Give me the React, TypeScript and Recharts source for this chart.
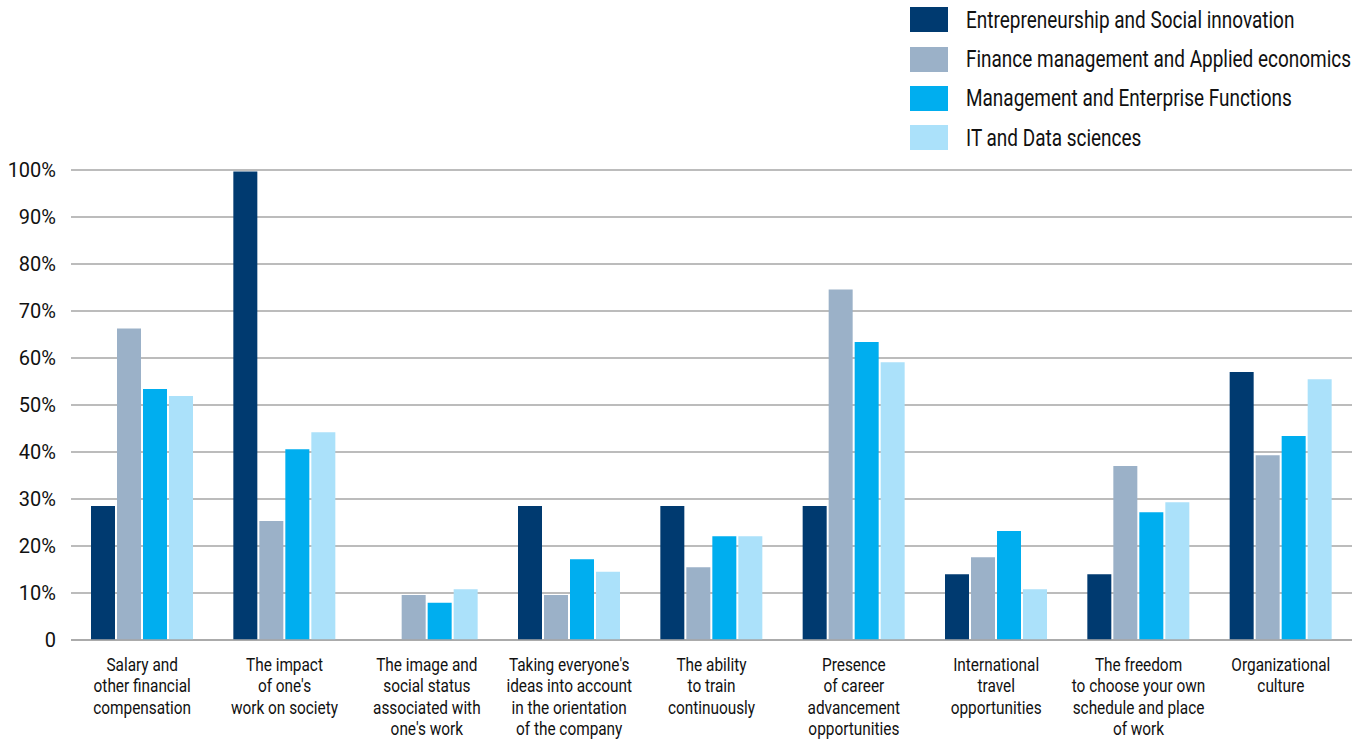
import React from 'react';
import { BarChart, Bar, XAxis, YAxis, CartesianGrid, Legend } from 'recharts';

const FONT = "Roboto, 'Noto Sans', sans-serif";
const SQUEEZE = 0.81;
const LEGEND_SQUEEZE = 0.79;

const categories = [
  'Salary and\nother financial\ncompensation',
  'The impact\nof one\'s\nwork on society',
  'The image and\nsocial status\nassociated with\none\'s work',
  'Taking everyone\'s\nideas into account\nin the orientation\nof the company',
  'The ability\nto train\ncontinuously',
  'Presence\nof career\nadvancement\nopportunities',
  'International\ntravel\nopportunities',
  'The freedom\nto choose your own\nschedule and place\nof work',
  'Organizational\nculture',
];

const entrepreneurship = [28.5, 99.7, 0, 28.5, 28.5, 28.5, 14.0, 14.0, 57.0];
const finance = [66.3, 25.3, 9.6, 9.6, 15.5, 74.6, 17.6, 37.0, 39.3];
const management = [53.4, 40.6, 7.9, 17.2, 22.1, 63.4, 23.2, 27.2, 43.4];
const itData = [51.9, 44.2, 10.8, 14.5, 22.1, 59.1, 10.8, 29.3, 55.5];

const yTicks = [0, 10, 20, 30, 40, 50, 60, 70, 80, 90, 100];

const series = [
  { key: 'ent', name: 'Entrepreneurship and Social innovation', color: '#003a70' },
  { key: 'fin', name: 'Finance management and Applied economics', color: '#9bb1c8' },
  { key: 'man', name: 'Management and Enterprise Functions', color: '#00aeef' },
  { key: 'it', name: 'IT and Data sciences', color: '#abe1fa' },
];

const data = categories.map((c, i) => ({
  name: c,
  ent: entrepreneurship[i],
  fin: finance[i],
  man: management[i],
  it: itData[i],
}));

// condensed look: no narrow fonts installed, so squeeze Roboto horizontally
const CategoryTick = (props: any) => {
  const { x, y, payload } = props;
  const lines = String(payload.value).split('\n');
  return (
    <g transform={`translate(${x},${y}) scale(${SQUEEZE},1)`}>
      <text x={0} y={0} textAnchor="middle" fill="#111" fontFamily={FONT} fontSize={19}>
        {lines.map((l, i) => (
          <tspan key={i} x={0} dy={i === 0 ? 29 : 21.5}>
            {l}
          </tspan>
        ))}
      </text>
    </g>
  );
};

const LegendBox = () => (
  <div style={{ fontFamily: FONT, fontSize: 24, color: '#111', width: 600 }}>
    {series.map((s) => (
      <div key={s.key} style={{ display: 'flex', alignItems: 'center', height: 39.4 }}>
        <div style={{ width: 38, height: 25, background: s.color, marginRight: 18, flexShrink: 0 }} />
        <span
          style={{
            whiteSpace: 'nowrap',
            display: 'inline-block',
            transform: `scaleX(${LEGEND_SQUEEZE})`,
            transformOrigin: 'left center',
          }}
        >
          {s.name}
        </span>
      </div>
    ))}
  </div>
);

export default function App() {
  return (
    <div style={{ position: 'absolute', left: 0, top: 0, width: 1357, height: 740, background: '#fff', overflow: 'hidden' }}>
      <BarChart
        width={1357}
        height={740}
        data={data}
        margin={{ top: 170, right: 5, left: 0, bottom: 0 }}
        barSize={24}
        barGap={2}
      >
        <CartesianGrid vertical={false} stroke="#a6a6a6" strokeWidth={1.5} />
        <XAxis
          dataKey="name"
          interval={0}
          height={100}
          tickLine={false}
          axisLine={{ stroke: '#a6a6a6', strokeWidth: 1.5 }}
          tick={<CategoryTick />}
          tickSize={0}
        />
        <YAxis
          width={71}
          domain={[0, 100]}
          ticks={yTicks}
          axisLine={false}
          tickLine={false}
          tickSize={0}
          tickMargin={15}
          tick={{ fill: '#111', fontSize: 20, fontFamily: FONT }}
          tickFormatter={(v: number) => (v === 0 ? '0' : `${v}%`)}
        />
        <Legend
          layout="vertical"
          align="center"
          verticalAlign="middle"
          wrapperStyle={{ top: 0, left: 910, width: 447 }}
          content={<LegendBox />}
        />
        {series.map((s) => (
          <Bar key={s.key} dataKey={s.key} name={s.name} fill={s.color} isAnimationActive={false} />
        ))}
      </BarChart>
    </div>
  );
}
